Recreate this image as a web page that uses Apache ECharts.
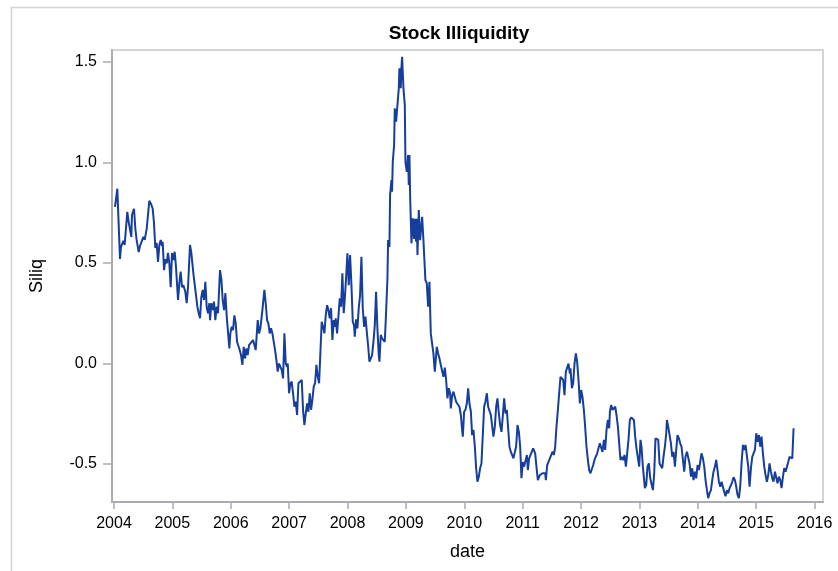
<!DOCTYPE html>
<html>
<head>
<meta charset="utf-8">
<title>Stock Illiquidity</title>
<script src="https://cdn.jsdelivr.net/npm/echarts@6/dist/echarts.min.js"></script>
<style>
  html, body { margin: 0; padding: 0; background: #ffffff; }
  #chart { width: 838px; height: 571px; }
</style>
</head>
<body>
<div id="chart"></div>
<script>
// Weekly Siliq observations, dates given as decimal years
const dates = [
  2004.017, 2004.057, 2004.103, 2004.120, 2004.149, 2004.160, 2004.183, 2004.228, 2004.251, 2004.274,
  2004.297, 2004.308, 2004.343, 2004.366, 2004.388, 2004.423, 2004.446, 2004.480, 2004.503, 2004.526,
  2004.560, 2004.605, 2004.640, 2004.663, 2004.685, 2004.708, 2004.731, 2004.754, 2004.777, 2004.800,
  2004.822, 2004.834, 2004.857, 2004.880, 2004.903, 2004.925, 2004.948, 2004.971, 2004.994, 2005.017,
  2005.040, 2005.062, 2005.097, 2005.120, 2005.142, 2005.165, 2005.188, 2005.222, 2005.245, 2005.268,
  2005.302, 2005.325, 2005.359, 2005.394, 2005.428, 2005.451, 2005.474, 2005.496, 2005.519, 2005.542,
  2005.565, 2005.588, 2005.611, 2005.633, 2005.645, 2005.668, 2005.691, 2005.713, 2005.736, 2005.759,
  2005.782, 2005.816, 2005.839, 2005.862, 2005.885, 2005.908, 2005.931, 2005.953, 2005.976, 2005.993,
  2006.016, 2006.039, 2006.062, 2006.085, 2006.108, 2006.130, 2006.153, 2006.176, 2006.199, 2006.222,
  2006.245, 2006.267, 2006.290, 2006.313, 2006.347, 2006.382, 2006.405, 2006.427, 2006.462, 2006.485,
  2006.507, 2006.542, 2006.576, 2006.599, 2006.622, 2006.644, 2006.667, 2006.690, 2006.713, 2006.736,
  2006.759, 2006.782, 2006.804, 2006.827, 2006.850, 2006.873, 2006.896, 2006.919, 2006.942, 2006.965,
  2006.976, 2006.999, 2007.021, 2007.044, 2007.067, 2007.090, 2007.113, 2007.136, 2007.159, 2007.193,
  2007.216, 2007.238, 2007.261, 2007.284, 2007.307, 2007.330, 2007.353, 2007.376, 2007.398, 2007.421,
  2007.444, 2007.467, 2007.490, 2007.513, 2007.536, 2007.558, 2007.581, 2007.604, 2007.627, 2007.650,
  2007.673, 2007.695, 2007.718, 2007.741, 2007.764, 2007.787, 2007.798, 2007.821, 2007.844, 2007.867,
  2007.890, 2007.912, 2007.935, 2007.953, 2007.975, 2007.998, 2008.021, 2008.044, 2008.067, 2008.090,
  2008.112, 2008.124, 2008.147, 2008.170, 2008.192, 2008.215, 2008.238, 2008.261, 2008.284, 2008.307,
  2008.330, 2008.352, 2008.375, 2008.398, 2008.421, 2008.444, 2008.467, 2008.489, 2008.512, 2008.535,
  2008.547, 2008.569, 2008.592, 2008.615, 2008.638, 2008.661, 2008.684, 2008.695, 2008.718, 2008.729,
  2008.752, 2008.763, 2008.775, 2008.798, 2008.809, 2008.832, 2008.855, 2008.878, 2008.889, 2008.912,
  2008.923, 2008.935, 2008.958, 2008.981, 2008.992, 2009.015, 2009.038, 2009.049, 2009.061, 2009.072,
  2009.095, 2009.118, 2009.141, 2009.152, 2009.175, 2009.186, 2009.198, 2009.221, 2009.243, 2009.278,
  2009.300, 2009.334, 2009.358, 2009.380, 2009.403, 2009.426, 2009.471, 2009.495, 2009.529, 2009.552,
  2009.574, 2009.598, 2009.620, 2009.643, 2009.667, 2009.689, 2009.711, 2009.735, 2009.757, 2009.769,
  2009.792, 2009.814, 2009.838, 2009.860, 2009.882, 2009.917, 2009.941, 2009.963, 2009.975, 2009.997,
  2010.020, 2010.044, 2010.066, 2010.089, 2010.113, 2010.134, 2010.157, 2010.181, 2010.203, 2010.225,
  2010.249, 2010.271, 2010.294, 2010.318, 2010.340, 2010.362, 2010.386, 2010.409, 2010.431, 2010.455,
  2010.477, 2010.499, 2010.523, 2010.546, 2010.568, 2010.592, 2010.614, 2010.637, 2010.661, 2010.683,
  2010.705, 2010.729, 2010.751, 2010.774, 2010.798, 2010.820, 2010.842, 2010.866, 2010.888, 2010.911,
  2010.935, 2010.957, 2010.979, 2011.003, 2011.025, 2011.048, 2011.072, 2011.089, 2011.111, 2011.145,
  2011.180, 2011.214, 2011.236, 2011.260, 2011.294, 2011.317, 2011.339, 2011.363, 2011.385, 2011.397,
  2011.420, 2011.442, 2011.466, 2011.488, 2011.510, 2011.534, 2011.557, 2011.579, 2011.603, 2011.625,
  2011.648, 2011.671, 2011.694, 2011.716, 2011.740, 2011.762, 2011.785, 2011.808, 2011.819, 2011.843,
  2011.865, 2011.888, 2011.911, 2011.933, 2011.956, 2011.980, 2012.002, 2012.024, 2012.048, 2012.070,
  2012.093, 2012.117, 2012.139, 2012.161, 2012.185, 2012.208, 2012.230, 2012.254, 2012.276, 2012.299,
  2012.322, 2012.345, 2012.367, 2012.391, 2012.413, 2012.436, 2012.459, 2012.482, 2012.494, 2012.516,
  2012.539, 2012.563, 2012.585, 2012.607, 2012.631, 2012.653, 2012.675, 2012.699, 2012.722, 2012.744,
  2012.768, 2012.790, 2012.812, 2012.836, 2012.859, 2012.881, 2012.905, 2012.927, 2012.949, 2012.973,
  2012.996, 2013.018, 2013.035, 2013.059, 2013.093, 2013.116, 2013.138, 2013.162, 2013.184, 2013.207,
  2013.231, 2013.253, 2013.275, 2013.299, 2013.322, 2013.344, 2013.368, 2013.390, 2013.412, 2013.436,
  2013.459, 2013.470, 2013.493, 2013.515, 2013.539, 2013.561, 2013.584, 2013.608, 2013.630, 2013.652,
  2013.676, 2013.698, 2013.721, 2013.745, 2013.767, 2013.789, 2013.814, 2013.836, 2013.858, 2013.882,
  2013.904, 2013.926, 2013.950, 2013.973, 2013.995, 2014.019, 2014.041, 2014.063, 2014.087, 2014.110,
  2014.132, 2014.156, 2014.178, 2014.200, 2014.224, 2014.247, 2014.269, 2014.293, 2014.315, 2014.337,
  2014.361, 2014.384, 2014.406, 2014.430, 2014.452, 2014.474, 2014.498, 2014.521, 2014.543, 2014.567,
  2014.589, 2014.612, 2014.636, 2014.658, 2014.680, 2014.704, 2014.726, 2014.749, 2014.773, 2014.795,
  2014.817, 2014.841, 2014.864, 2014.886, 2014.910, 2014.932, 2014.954, 2014.978, 2015.001, 2015.023,
  2015.047, 2015.069, 2015.091, 2015.115, 2015.138, 2015.160, 2015.184, 2015.206, 2015.228, 2015.252,
  2015.275, 2015.297, 2015.321, 2015.343, 2015.365, 2015.389, 2015.412, 2015.434, 2015.458, 2015.480,
  2015.503, 2015.527, 2015.549, 2015.571, 2015.595, 2015.618, 2015.640
];

const siliq = [
  0.78, 0.87, 0.52, 0.58, 0.573, 0.61, 0.59, 0.755, 0.705, 0.714,
  0.63, 0.739, 0.77, 0.67, 0.615, 0.555, 0.585, 0.59, 0.63, 0.615,
  0.67, 0.81, 0.79, 0.77, 0.70, 0.575, 0.60, 0.505, 0.59, 0.615,
  0.585, 0.606, 0.465, 0.52, 0.498, 0.55, 0.50, 0.38, 0.55, 0.515,
  0.556, 0.48, 0.316, 0.40, 0.457, 0.38, 0.39, 0.357, 0.30, 0.38,
  0.59, 0.55, 0.45, 0.366, 0.283, 0.25, 0.225, 0.33, 0.366, 0.316,
  0.407, 0.28, 0.25, 0.30, 0.216, 0.30, 0.266, 0.308, 0.216, 0.283,
  0.25, 0.465, 0.42, 0.316, 0.266, 0.35, 0.233, 0.225, 0.075, 0.15,
  0.183, 0.166, 0.24, 0.20, 0.108, 0.117, 0.067, 0.042, -0.007, 0.083,
  0.025, 0.075, 0.042, 0.092, 0.10, 0.117, 0.092, 0.067, 0.216, 0.15,
  0.175, 0.266, 0.366, 0.30, 0.216, 0.20, 0.15, 0.175, 0.15, 0.15,
  0.067, 0.017, -0.04, 0.0, -0.007, -0.032, -0.074, 0.15, 0.0, -0.016,
  0.0, -0.148, -0.10, -0.09, -0.148, -0.215, -0.19, -0.256, -0.098, -0.09,
  -0.082, -0.23, -0.306, -0.25, -0.198, -0.24, -0.148, -0.23, -0.18, -0.115,
  -0.098, -0.007, -0.065, -0.098, -0.107, 0.208, 0.183, 0.15, 0.24, 0.29,
  0.266, 0.225, 0.275, 0.117, 0.216, 0.183, 0.225, 0.15, 0.233, 0.324,
  0.283, 0.449, 0.25, 0.32, 0.424, 0.548, 0.39, 0.54, 0.39, 0.208,
  0.19, 0.133, 0.22, 0.175, 0.275, 0.34, 0.531, 0.275, 0.183, 0.233,
  0.158, 0.092, 0.009, 0.0, 0.042, 0.108, 0.19, 0.357, 0.175, 0.042,
  0.009, 0.142, 0.125, 0.116, 0.108, 0.258, 0.424, 0.614, 0.58, 0.838,
  0.913, 0.855, 1.004, 1.087, 1.27, 1.203, 1.286, 1.369, 1.469, 1.37,
  1.47, 1.526, 1.369, 1.286, 1.004, 0.954, 1.037, 0.888, 1.037, 0.838,
  0.598, 0.722, 0.62, 0.72, 0.606, 0.72, 0.54, 0.764, 0.614, 0.73,
  0.614, 0.415, 0.399, 0.283, 0.407, 0.15, 0.05, -0.04, 0.083, 0.05,
  0.026, -0.007, -0.016, -0.066, -0.02, -0.082, -0.173, -0.123, -0.148, -0.223,
  -0.16, -0.14, -0.135, -0.19, -0.2, -0.215, -0.256, -0.331, -0.364, -0.24,
  -0.23, -0.198, -0.123, -0.2, -0.24, -0.356, -0.33, -0.414, -0.521, -0.588,
  -0.563, -0.521, -0.497, -0.489, -0.215, -0.19, -0.148, -0.215, -0.206, -0.256,
  -0.265, -0.364, -0.314, -0.215, -0.173, -0.248, -0.306, -0.34, -0.256, -0.173,
  -0.248, -0.231, -0.322, -0.414, -0.44, -0.447, -0.472, -0.44, -0.414, -0.306,
  -0.34, -0.414, -0.571, -0.49, -0.513, -0.505, -0.455, -0.53, -0.472, -0.447,
  -0.422, -0.447, -0.513, -0.58, -0.555, -0.563, -0.546, -0.546, -0.546, -0.58,
  -0.505, -0.489, -0.472, -0.48, -0.439, -0.455, -0.414, -0.314, -0.231, -0.148,
  -0.066, -0.074, -0.082, -0.157, -0.04, -0.04, 0.0, -0.05, -0.024, -0.123,
  -0.098, 0.0, 0.05, 0.009, -0.08, -0.198, -0.132, -0.165, -0.231, -0.314,
  -0.414, -0.48, -0.53, -0.546, -0.546, -0.505, -0.48, -0.489, -0.447, -0.44,
  -0.397, -0.389, -0.44, -0.38, -0.43, -0.331, -0.281, -0.322, -0.24, -0.206,
  -0.231, -0.223, -0.215, -0.256, -0.314, -0.397, -0.48, -0.464, -0.48, -0.455,
  -0.513, -0.447, -0.38, -0.281, -0.268, -0.268, -0.281, -0.364, -0.422, -0.422,
  -0.513, -0.38, -0.414, -0.513, -0.62, -0.605, -0.513, -0.497, -0.571, -0.571,
  -0.63, -0.546, -0.372, -0.38, -0.38, -0.497, -0.505, -0.521, -0.464, -0.414,
  -0.347, -0.281, -0.314, -0.322, -0.397, -0.464, -0.439, -0.513, -0.43, -0.356,
  -0.372, -0.397, -0.414, -0.48, -0.538, -0.464, -0.439, -0.443, -0.497, -0.563,
  -0.521, -0.58, -0.538, -0.571, -0.505, -0.53, -0.53, -0.447, -0.472, -0.513,
  -0.58, -0.63, -0.67, -0.646, -0.63, -0.58, -0.538, -0.513, -0.48, -0.53,
  -0.588, -0.613, -0.588, -0.596, -0.638, -0.66, -0.63, -0.646, -0.621, -0.63,
  -0.59, -0.566, -0.58, -0.613, -0.654, -0.67, -0.613, -0.497, -0.405, -0.43,
  -0.405, -0.414, -0.513, -0.613, -0.521, -0.464, -0.455, -0.43, -0.347, -0.389,
  -0.356, -0.414, -0.364, -0.447, -0.513, -0.555, -0.588, -0.555, -0.497, -0.538,
  -0.571, -0.588, -0.538, -0.53, -0.596, -0.563, -0.58, -0.62, -0.563, -0.521,
  -0.538, -0.513, -0.489, -0.464, -0.464, -0.472, -0.322
];

const yearTicks = [2004, 2005, 2006, 2007, 2008, 2009, 2010, 2011, 2012, 2013, 2014, 2015, 2016];
const siliqTicks = [-0.5, 0.0, 0.5, 1.0, 1.5];

const seriesData = dates.map((d, i) => [d, siliq[i]]);

const FONT = '"Liberation Sans", Arial, Helvetica, sans-serif';
const AXIS_GRAY = '#a9adb1';

const chart = echarts.init(document.getElementById('chart'), null, { renderer: 'canvas' });

chart.setOption({
  backgroundColor: '#ffffff',
  animation: false,
  title: {
    text: 'Stock Illiquidity',
    left: 454,
    top: 19,
    textAlign: 'center',
    textStyle: { fontFamily: FONT, fontSize: 19, fontWeight: 'bold', color: '#000000' }
  },
  graphic: [{
    type: 'rect',
    silent: true,
    shape: { x: 11.5, y: 7.5, width: 900, height: 700 },
    style: { fill: 'none', stroke: '#d4d4d4', lineWidth: 1.5 },
    z: -1
  }],
  grid: {
    left: 112,
    top: 50,
    right: 15,
    bottom: 69,
    show: true,
    borderColor: '#c4c7ca',
    borderWidth: 1.5,
    backgroundColor: 'transparent'
  },
  xAxis: {
    type: 'value',
    name: 'date',
    nameLocation: 'middle',
    nameGap: 41,
    nameTextStyle: { fontFamily: FONT, fontSize: 18, color: '#000000' },
    min: 2003.966,
    max: 2016.144,
    axisLine: { show: true, onZero: false, lineStyle: { color: AXIS_GRAY, width: 2 } },
    axisTick: { show: true, length: 7, lineStyle: { color: AXIS_GRAY, width: 1.5 }, customValues: yearTicks },
    axisLabel: {
      fontFamily: FONT, fontSize: 16, color: '#000000', margin: 14,
      customValues: yearTicks,
      formatter: v => String(Math.round(v))
    },
    splitLine: { show: false }
  },
  yAxis: {
    type: 'value',
    name: 'Siliq',
    nameLocation: 'middle',
    nameGap: 66,
    nameRotate: 90,
    nameTextStyle: { fontFamily: FONT, fontSize: 18, color: '#000000' },
    min: -0.689,
    max: 1.56,
    axisLine: { show: true, onZero: false, lineStyle: { color: AXIS_GRAY, width: 2 } },
    axisTick: { show: true, length: 9, lineStyle: { color: AXIS_GRAY, width: 1.5 }, customValues: siliqTicks },
    axisLabel: {
      fontFamily: FONT, fontSize: 16, color: '#000000', margin: 15,
      customValues: siliqTicks,
      formatter: v => v.toFixed(1)
    },
    splitLine: { show: false }
  },
  series: [{
    type: 'line',
    name: 'Siliq',
    data: seriesData,
    showSymbol: false,
    symbol: 'none',
    lineStyle: { color: '#163e9c', width: 2 },
    clip: true
  }]
});
</script>
</body>
</html>
